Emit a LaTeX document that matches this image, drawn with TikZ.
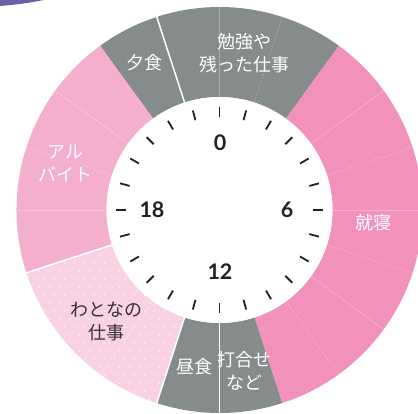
\documentclass[tikz,border=0pt]{standalone}
\usepackage{fontspec}
\setmainfont{Noto Sans CJK JP}
\newfontfamily\numfont{Lato}
\definecolor{wgray}{HTML}{868B8C}
\definecolor{pinkA}{HTML}{F291BB}
\definecolor{pinkB}{HTML}{F4AFCF}
\definecolor{pinkC}{HTML}{F8D1E2}
\definecolor{tickc}{HTML}{222222}
\definecolor{darktxt}{HTML}{333333}
\definecolor{purp}{HTML}{6B60A8}
\newcommand{\Rin}{113}
\newcommand{\Rout}{203}
\newcommand{\sector}[3]{%
  \fill[#3] ({90-(#1)}:\Rin) -- ({90-(#1)}:\Rout)
    arc[start angle={90-(#1)}, end angle={90-(#2)}, radius=\Rout]
    -- ({90-(#2)}:\Rin)
    arc[start angle={90-(#2)}, end angle={90-(#1)}, radius=\Rin] -- cycle;}
\tikzset{
  x=1pt, y=1pt,
  lbl/.style={text=white, align=center, inner sep=0pt,
    font=\fontsize{18}{23}\selectfont},
  lbldark/.style={lbl, text=darktxt},
  num/.style={text=tickc, inner sep=0pt, font=\numfont\bfseries\fontsize{21.5}{21.5}\selectfont},
  faint/.style={white, opacity=0.3, line width=0.6pt},
  faintdash/.style={faint, dash pattern=on 2pt off 1.5pt},
  border/.style={white, line width=1.5pt},
  tickmark/.style={tickc, line width=1.8pt}
}
\begin{document}
\begin{tikzpicture}
\useasboundingbox (-219.5,-203) rectangle (198.5,210);
\clip (-219.5,-203) rectangle (198.5,210);
\fill[white] (-219.5,-203) rectangle (198.5,210);
% purple corner
\fill[purp] (-219.5,210) -- (-175.5,210) to[bend left=3] (-219.5,204) -- cycle;
% sectors
\sector{-18}{36}{wgray}
\sector{-36}{-18}{wgray}
\sector{36}{162}{pinkA}
\sector{162}{198}{wgray}
\sector{198}{252}{pinkC}
\sector{252}{324}{pinkB}
% dots
\begin{scope}
  \clip (90-198:\Rin) -- (90-198:\Rout)
    arc[start angle=90-198, end angle=90-252, radius=\Rout]
    -- (90-252:\Rin)
    arc[start angle=90-252, end angle=90-198, radius=\Rin] -- cycle;
  \foreach \j in {0,...,24}{
    \foreach \i in {0,...,17}{
      \pgfmathsetmacro{\xx}{-210+10*\i+5*mod(\j,2)}
      \pgfmathsetmacro{\yy}{-205+8*\j}
      \fill[white, opacity=0.9] (\xx,\yy) circle[radius=0.75];
    }
  }
\end{scope}
% faint dividers
\foreach \a in {0,54,90,126,216,270,306}{
  \draw[faint] ({90-\a}:\Rin) -- ({90-\a}:\Rout);
}
\foreach \a in {18,72,108,144,234,288}{
  \draw[faintdash] ({90-\a}:\Rin) -- ({90-\a}:\Rout);
}
% boundaries
\foreach \a in {-18,180,198,252}{
  \draw[border] ({90-\a}:\Rin) -- ({90-\a}:\Rout+2);
}
% inner disc
\fill[white] (0,0) circle[radius=\Rin];
% ticks
\foreach \k in {0,...,23}{
  \draw[tickmark] ({90-15*\k}:93) -- ({90-15*\k}:103);
}
% numbers
\node[num] (n0) at (0.5,67) {0};
\node[num] (n6) at (67.5,0) {6};
\node[num] (n12) at (0.5,-62) {12};
\node[num] (n18) at (-67.5,0) {18};
% labels
\node[lbl] (study) at (25,156.5) {勉強や\\残った仕事};
\node[lbl] (dinner) at (-74.5,147) {夕食};
\node[lbl] (job) at (-154,46.5) {アル\\バイト};
\node[lbl] (sleep) at (153.5,-13) {就寝};
\node[lbldark] (work) at (-113,-111.5) {わとなの\\仕事};
\node[lbl] (lunch) at (-24.5,-157) {昼食};
\node[lbl] (meet) at (25.5,-161) {打合せ\\など};
\end{tikzpicture}
\end{document}
